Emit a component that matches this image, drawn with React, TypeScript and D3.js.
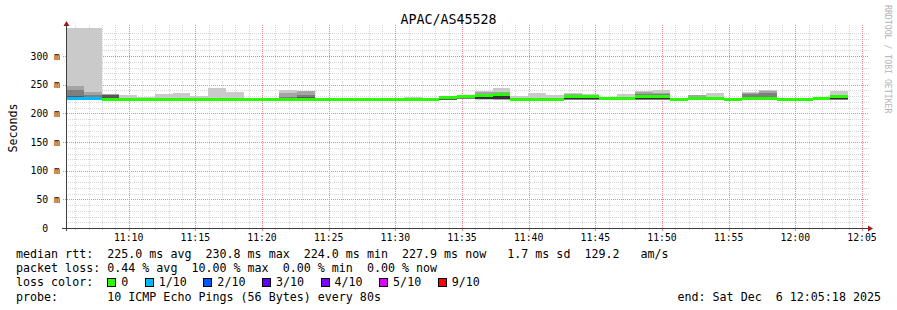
import React from 'react';
import * as d3 from 'd3';

// ---------------- data ----------------
const TITLE = 'APAC/AS45528';
const END_TIME = new Date(2025, 11, 6, 12, 5, 18);
const SPAN_SECONDS = 3600;
const STEP_SECONDS = 80;

// median rtt per 80 s step (ms); null = no data yet
const medianRtt: (number | null)[] = [
  225.5, 225.5, 225.0, 225.0, 225.0, 225.0, 225.0, 225.0, 225.0, 225.0,
  224.8, 224.8, 225.0, 225.0, 224.5, 224.5, 224.5, 224.5, 224.5, 224.6,
  224.6, 227.0, 228.8, 231.5, 232.3, 224.5, 224.5, 224.5, 229.0, 229.0,
  225.2, 225.2, 228.8, 228.8, 224.4, 225.2, 225.2, 224.4, 225.2, 225.2,
  224.4, 224.4, 225.2, 229.3, null,
];

// lost pings (of 10) per step
const lossCount: number[] = [
  1, 1, 0, 0, 0, 0, 0, 0, 0, 0,
  0, 0, 0, 0, 0, 0, 0, 0, 0, 0,
  0, 0, 0, 0, 0, 0, 0, 0, 0, 0,
  0, 0, 0, 0, 0, 0, 0, 0, 0, 0,
  0, 0, 0, 0, 0,
];

// sorted ping times per step (ms)
const pingTimes: (number[] | null)[] = [
  [224.2, 224.6, 225.0, 225.3, 225.6, 226.5, 230.0, 241.0, 248.0, 420.0],
  [224.2, 224.6, 225.0, 225.3, 225.6, 226.5, 228.5, 232.0, 238.0, 420.0],
  [223.8, 224.1, 224.4, 224.7, 224.9, 225.1, 232.0, 232.6, 233.0, 233.5],
  [223.8, 224.1, 224.4, 224.7, 224.9, 225.1, 225.4, 225.8, 226.5, 232.0],
  [223.8, 224.1, 224.4, 224.7, 224.9, 225.1, 225.4, 225.8, 226.5, 229.0],
  [223.8, 224.1, 224.4, 224.7, 224.9, 225.1, 225.4, 225.8, 226.5, 233.0],
  [223.8, 224.1, 224.4, 224.7, 224.9, 225.1, 225.4, 225.8, 226.5, 235.0],
  [223.8, 224.1, 224.4, 224.7, 224.9, 225.1, 225.4, 225.8, 226.5, 230.5],
  [223.8, 224.1, 224.4, 224.7, 224.9, 225.1, 225.4, 225.8, 226.5, 244.0],
  [223.8, 224.1, 224.4, 224.7, 224.9, 225.1, 225.4, 225.8, 226.5, 237.0],
  [223.9, 224.1, 224.3, 224.4, 224.5, 224.7, 224.9, 225.1, 225.4, 225.9],
  [223.9, 224.1, 224.3, 224.4, 224.5, 224.7, 224.9, 225.1, 225.4, 225.9],
  [223.8, 224.1, 224.4, 224.7, 224.9, 225.1, 225.6, 228.5, 235.5, 241.0],
  [223.8, 224.1, 224.4, 224.7, 224.9, 225.3, 228.0, 232.0, 238.5, 239.5],
  [223.8, 224.0, 224.2, 224.3, 224.4, 224.5, 224.7, 224.9, 225.2, 225.7],
  [223.8, 224.0, 224.2, 224.3, 224.4, 224.5, 224.7, 224.9, 225.2, 225.7],
  [223.8, 224.0, 224.2, 224.3, 224.4, 224.5, 224.7, 224.9, 225.2, 225.7],
  [223.8, 224.0, 224.2, 224.3, 224.4, 224.5, 224.7, 224.9, 225.2, 225.7],
  [223.8, 224.0, 224.2, 224.3, 224.4, 224.5, 224.7, 224.9, 225.2, 225.7],
  [223.9, 224.1, 224.3, 224.4, 224.5, 224.7, 224.9, 225.2, 225.8, 228.2],
  [223.9, 224.1, 224.3, 224.4, 224.5, 224.7, 224.9, 225.1, 225.4, 225.9],
  [223.6, 223.8, 224.0, 224.2, 224.4, 227.6, 227.9, 228.2, 228.5, 228.8],
  [225.4, 225.6, 225.8, 226.0, 226.3, 229.2, 229.6, 230.0, 230.4, 230.9],
  [224.2, 224.4, 224.6, 224.8, 225.0, 233.0, 233.4, 233.8, 237.0, 238.6],
  [224.0, 224.2, 224.4, 224.6, 224.8, 234.0, 234.4, 236.0, 238.0, 243.7],
  [223.9, 224.1, 224.3, 224.4, 224.5, 224.7, 225.0, 225.5, 226.5, 229.8],
  [223.9, 224.1, 224.3, 224.4, 224.5, 224.7, 225.0, 225.5, 226.8, 235.7],
  [223.9, 224.1, 224.3, 224.4, 224.5, 224.7, 225.0, 225.5, 226.5, 231.6],
  [223.8, 224.0, 224.2, 224.4, 224.6, 231.0, 231.5, 232.0, 233.5, 235.7],
  [223.8, 224.0, 224.2, 224.4, 224.6, 231.0, 231.5, 232.0, 232.6, 233.2],
  [224.6, 224.8, 225.0, 225.1, 225.2, 225.3, 225.5, 225.8, 226.2, 226.8],
  [224.6, 224.8, 225.0, 225.1, 225.2, 225.3, 225.5, 225.8, 226.8, 233.7],
  [223.8, 224.0, 224.2, 224.4, 224.6, 230.8, 231.3, 233.0, 236.5, 239.0],
  [223.8, 224.0, 224.2, 224.4, 224.6, 230.8, 231.3, 234.0, 235.7, 241.0],
  [223.8, 224.0, 224.2, 224.3, 224.4, 224.5, 224.7, 224.9, 225.2, 225.7],
  [224.6, 224.8, 225.0, 225.1, 225.2, 225.4, 226.5, 229.0, 231.5, 232.6],
  [224.6, 224.8, 225.0, 225.1, 225.2, 225.4, 225.8, 226.5, 227.5, 235.5],
  [223.8, 224.0, 224.2, 224.3, 224.4, 224.5, 224.7, 224.9, 225.2, 225.7],
  [224.6, 224.8, 225.0, 225.1, 225.2, 225.4, 226.0, 234.0, 235.5, 236.7],
  [224.6, 224.8, 225.0, 225.1, 225.2, 225.4, 226.5, 236.0, 239.0, 240.7],
  [223.8, 224.0, 224.2, 224.3, 224.4, 224.5, 224.7, 224.9, 225.2, 225.7],
  [223.8, 224.0, 224.2, 224.3, 224.4, 224.5, 224.7, 224.9, 225.2, 225.7],
  [224.6, 224.8, 225.0, 225.1, 225.2, 225.3, 225.5, 225.8, 226.5, 228.6],
  [223.8, 224.0, 224.2, 224.4, 224.6, 230.0, 230.5, 231.0, 232.5, 239.0],
  null,
];

const yTickValues = [0, 50, 100, 150, 200, 250, 300];
const yMax = 349;

const lossLegendLabels = ['0', '1/10', '2/10', '3/10', '4/10', '5/10', '9/10'];
const lossLegendColors = ['#26ff00', '#00b8ff', '#0059ff', '#5e00ff', '#7e00ff', '#dd00ff', '#ff0000'];

const statsLine1 = 'median rtt:  225.0 ms avg  230.8 ms max  224.0 ms min  227.9 ms now   1.7 ms sd  129.2   am/s';
const statsLine2 = 'packet loss: 0.44 % avg  10.00 % max  0.00 % min  0.00 % now';
const lossLabel = 'loss color:';
const probeLine = 'probe:       10 ICMP Echo Pings (56 Bytes) every 80s';
const endLine = 'end: Sat Dec  6 12:05:18 2025';
const watermark = 'RRDTOOL / TOBI OETIKER';

// ---------------- layout / style ----------------
const W = 897;
const H = 310;
const PLOT = { left: 66, right: 866, top: 28, bottom: 228 };
const FONT = '"DejaVu Sans Mono", monospace';
const LEG_SIZE = 11.66;
const LEG_ADV = 7.02;
const AXIS_SIZE = 9.8;
const AXIS_ADV = 5.9;
const MINOR_GRID = '#d6d6d6';
const MAJOR_GRID = '#f08888';
const AXIS_COLOR = '#404040';
const ARROW_COLOR = '#9a1e1e';

function lossColor(n: number): string {
  if (n <= 0) return lossLegendColors[0];
  if (n === 1) return lossLegendColors[1];
  if (n === 2) return lossLegendColors[2];
  if (n === 3) return lossLegendColors[3];
  if (n === 4) return lossLegendColors[4];
  if (n < 9) return lossLegendColors[5];
  return lossLegendColors[6];
}

function smokeGray(ibot: number): string {
  const half = 5;
  const c = Math.floor((190 / half) * (half - ibot)) + 50;
  const h = c.toString(16).padStart(2, '0');
  return '#' + h + h + h;
}

export default function App() {
  const start = new Date(END_TIME.getTime() - SPAN_SECONDS * 1000);
  const x = d3.scaleTime().domain([start, END_TIME]).range([PLOT.left, PLOT.right]);
  const y = d3.scaleLinear().domain([0, yMax]).range([PLOT.bottom, PLOT.top]);

  const minutes = d3.timeMinute.range(start, END_TIME);
  const majorMinutes = minutes.filter((d) => d.getMinutes() % 5 === 0);
  const minorMinutes = minutes.filter((d) => d.getMinutes() % 5 !== 0);
  const minorY = d3.range(10, yMax, 10).filter((v) => v % 50 !== 0);
  const fmt = d3.timeFormat('%H:%M');

  const stepTime = (k: number) => new Date(start.getTime() + k * STEP_SECONDS * 1000);

  const smoke: any[] = [];
  const medians: any[] = [];
  pingTimes.forEach((p, k) => {
    if (!p) return;
    const x0 = x(stepTime(k));
    const x1 = x(stepTime(k + 1));
    for (let i = 0; i < 5; i++) {
      const lo = p[i];
      const hi = p[9 - i];
      const yt = y(Math.min(hi, yMax + 5));
      const yb = y(lo);
      smoke.push(
        <rect key={`s${k}-${i}`} x={x0} y={yt} width={x1 - x0} height={Math.max(0, yb - yt)} fill={smokeGray(i + 1)} />
      );
    }
    const m = medianRtt[k];
    if (m != null) {
      medians.push(
        <rect key={`m${k}`} x={x0} y={y(m) - 1.5} width={x1 - x0} height={3} fill={lossColor(lossCount[k])} />
      );
    }
  });

  const legRowY = (i: number) => 258.3 + i * 14.07;
  const legX = (col: number) => 16 + col * LEG_ADV;

  let bx = legX(13);
  const boxes = lossLegendLabels.map((lab, i) => {
    const el = (
      <g key={`lb${i}`}>
        <rect x={bx + 0.5} y={legRowY(2) - 8} width={8} height={8} fill={lossLegendColors[i]} stroke="#000" strokeWidth={1} shapeRendering="crispEdges" />
        <text x={bx + 14} y={legRowY(2)} fontSize={LEG_SIZE}>{lab}</text>
      </g>
    );
    bx += 14 + lab.length * LEG_ADV + 16.5;
    return el;
  });

  const pre = { whiteSpace: 'pre' as const };

  return (
    <svg
      width={W}
      height={H}
      style={{ position: 'absolute', left: 0, top: 0, background: '#fff' }}
      fontFamily={FONT}
    >
      <defs>
        <clipPath id="plotclip">
          <rect x={PLOT.left} y={PLOT.top} width={PLOT.right - PLOT.left} height={PLOT.bottom - PLOT.top} />
        </clipPath>
      </defs>
      <rect x={0} y={0} width={W} height={H} fill="#fff" />

      <text x={W / 2} y={24} textAnchor="middle" fontSize={13.3} fill="#000">{TITLE}</text>

      <text transform={`translate(17, ${(PLOT.top + PLOT.bottom) / 2}) rotate(-90)`} textAnchor="middle" fontSize={LEG_SIZE} fill="#000">Seconds</text>

      <text transform={`translate(884.5, 5) rotate(90)`} fontSize={8.2} fill="#b4b4b4" xmlSpace="preserve" style={pre}>{watermark}</text>

      {/* grid */}
      <g strokeDasharray="1,1" strokeWidth={1} shapeRendering="crispEdges">
        {minorY.map((v) => (
          <line key={`hy${v}`} x1={PLOT.left} x2={PLOT.right + 3} y1={Math.round(y(v)) + 0.5} y2={Math.round(y(v)) + 0.5} stroke={MINOR_GRID} />
        ))}
        {minorMinutes.map((d) => (
          <line key={`vx${+d}`} x1={Math.round(x(d)) + 0.5} x2={Math.round(x(d)) + 0.5} y1={PLOT.top - 3} y2={PLOT.bottom} stroke={MINOR_GRID} />
        ))}
        {yTickValues.filter((v) => v > 0).map((v) => (
          <line key={`Hy${v}`} x1={PLOT.left - 3} x2={PLOT.right + 3} y1={Math.round(y(v)) + 0.5} y2={Math.round(y(v)) + 0.5} stroke={MAJOR_GRID} />
        ))}
        {majorMinutes.map((d) => (
          <line key={`Vx${+d}`} x1={Math.round(x(d)) + 0.5} x2={Math.round(x(d)) + 0.5} y1={PLOT.top - 3} y2={PLOT.bottom} stroke={MAJOR_GRID} />
        ))}
      </g>

      <g shapeRendering="crispEdges">
        {minorMinutes.map((d) => (
          <line key={`tx${+d}`} x1={Math.round(x(d)) + 0.5} x2={Math.round(x(d)) + 0.5} y1={PLOT.bottom} y2={PLOT.bottom + 2} stroke="#c4c4c4" />
        ))}
        {majorMinutes.map((d) => (
          <line key={`Tx${+d}`} x1={Math.round(x(d)) + 0.5} x2={Math.round(x(d)) + 0.5} y1={PLOT.bottom} y2={PLOT.bottom + 3} stroke="#e88080" />
        ))}
      </g>

      <g clipPath="url(#plotclip)" shapeRendering="crispEdges">
        {smoke}
        {medians}
      </g>

      <g shapeRendering="crispEdges">
        <line x1={PLOT.left - 4} x2={PLOT.right + 3} y1={PLOT.bottom + 0.5} y2={PLOT.bottom + 0.5} stroke={AXIS_COLOR} />
        <line x1={PLOT.left + 0.5} x2={PLOT.left + 0.5} y1={PLOT.top - 3} y2={PLOT.bottom + 3} stroke={AXIS_COLOR} />
      </g>
      <path d={`M${PLOT.left + 0.5},${PLOT.top - 7} L${PLOT.left - 2.5},${PLOT.top - 2} L${PLOT.left + 3.5},${PLOT.top - 2} Z`} fill={ARROW_COLOR} />
      <path d={`M${PLOT.right + 7},${PLOT.bottom + 0.5} L${PLOT.right + 2},${PLOT.bottom - 2.5} L${PLOT.right + 2},${PLOT.bottom + 3.5} Z`} fill={ARROW_COLOR} />

      {yTickValues.map((v) => (
        <text key={`yl${v}`} x={v === 0 ? 60 - 2 * AXIS_ADV : 60} y={y(v) + 3.5} textAnchor="end" fontSize={AXIS_SIZE} fill="#000">
          {v === 0 ? '0' : `${v} m`}
        </text>
      ))}

      {majorMinutes.map((d) => (
        <text key={`xl${+d}`} x={x(d)} y={241} textAnchor="middle" fontSize={AXIS_SIZE} fill="#000">{fmt(d)}</text>
      ))}

      <g fontSize={LEG_SIZE} fill="#000">
        <text x={legX(0)} y={legRowY(0)} xmlSpace="preserve" style={pre}>{statsLine1}</text>
        <text x={legX(0)} y={legRowY(1)} xmlSpace="preserve" style={pre}>{statsLine2}</text>
        <text x={legX(0)} y={legRowY(2)} xmlSpace="preserve" style={pre}>{lossLabel}</text>
        {boxes}
        <text x={legX(0)} y={legRowY(3)} xmlSpace="preserve" style={pre}>{probeLine}</text>
        <text x={881} y={legRowY(3)} textAnchor="end" xmlSpace="preserve" style={pre}>{endLine}</text>
      </g>
    </svg>
  );
}
